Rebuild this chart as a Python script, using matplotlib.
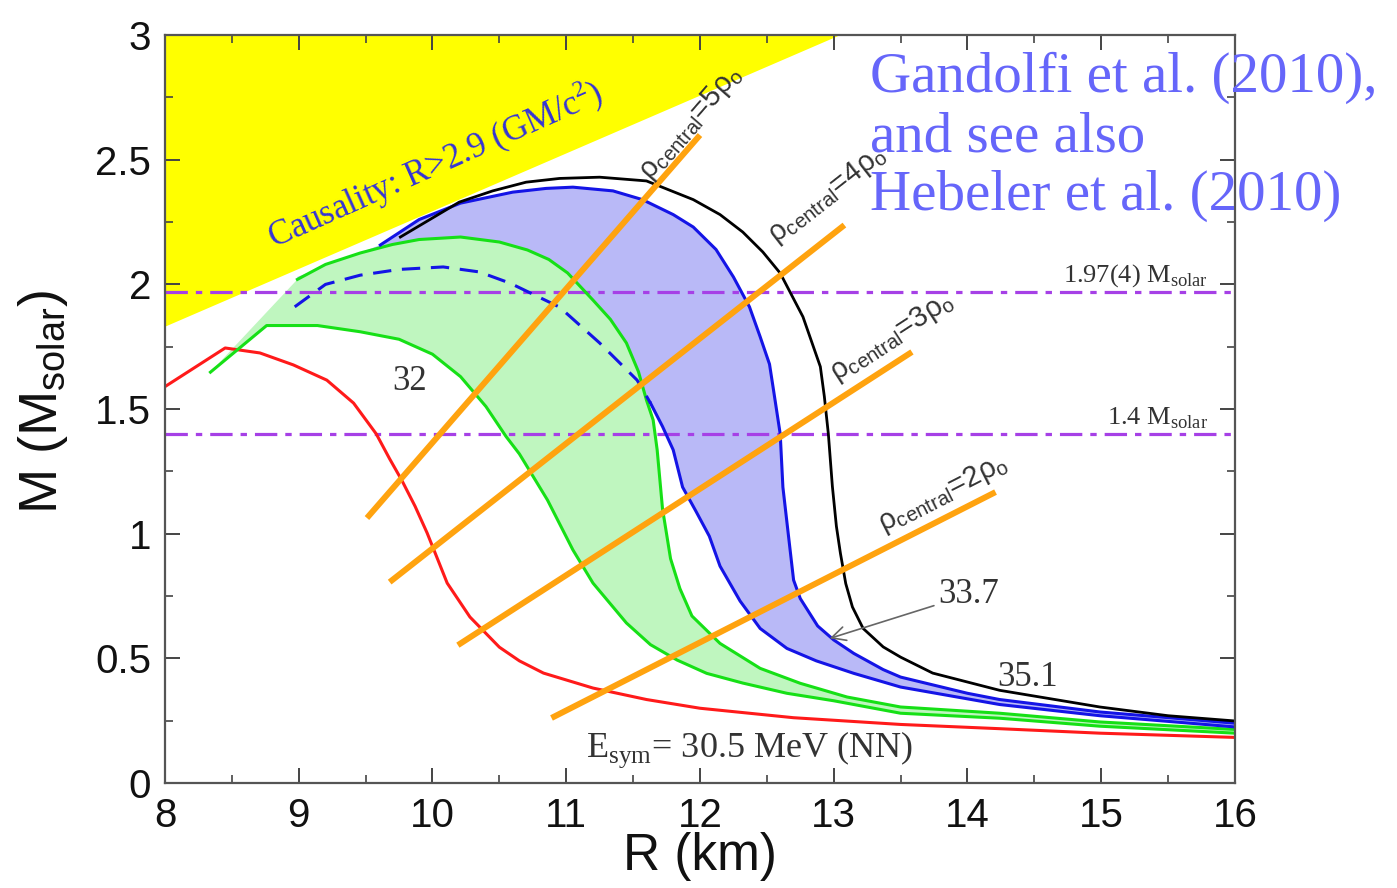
import matplotlib
matplotlib.use('Agg')
import matplotlib.pyplot as plt
from matplotlib.ticker import MultipleLocator

SERIF = 'Liberation Serif'
SANS = 'Liberation Sans'

# causality wedge, R > 2.9 GM/c^2
caus_R = [8.0, 13.05, 8.0]
caus_M = [1.83, 3.0, 3.0]

# E_sym = 30.5 MeV (NN)
red_R = [8.0, 8.45, 8.71, 8.96, 9.21, 9.41, 9.58, 9.68, 9.77, 9.87, 9.96, 10.11, 10.28,
         10.5, 10.65, 10.83, 11.2, 11.6, 12.0, 12.7, 13.5, 14.24, 14.99, 16.0]
red_M = [1.59, 1.745, 1.725, 1.677, 1.616, 1.524, 1.40, 1.30, 1.215, 1.11, 1.003, 0.802, 0.666,
         0.545, 0.49, 0.441, 0.381, 0.335, 0.30, 0.262, 0.235, 0.218, 0.20, 0.183]

# E_sym = 32 band
g_out_R = [8.99, 9.2, 9.46, 9.7, 9.9, 10.21, 10.5, 10.71, 10.87, 11.01, 11.2, 11.33, 11.45,
           11.54, 11.6, 11.65, 11.68, 11.72, 11.78, 11.85, 11.94, 12.15, 12.45, 12.75,
           13.1, 13.5, 14.24, 14.99, 16.0]
g_out_M = [2.02, 2.08, 2.126, 2.16, 2.18, 2.19, 2.17, 2.138, 2.1, 2.046, 1.937, 1.86, 1.765,
           1.65, 1.536, 1.456, 1.336, 1.1, 0.9, 0.78, 0.67, 0.56, 0.46, 0.40,
           0.345, 0.305, 0.28, 0.245, 0.215]
g_in_R = [8.34, 8.76, 9.14, 9.46, 9.75, 10.0, 10.21, 10.4, 10.55, 10.65, 10.86, 11.05,
          11.2, 11.45, 11.63, 11.83, 12.05, 12.32, 12.65, 13.0, 13.5, 14.24, 14.99, 16.0]
g_in_M = [1.648, 1.835, 1.835, 1.81, 1.78, 1.72, 1.63, 1.51, 1.39, 1.32, 1.135, 0.935,
          0.802, 0.642, 0.555, 0.493, 0.44, 0.401, 0.36, 0.33, 0.28, 0.26, 0.228, 0.20]

# E_sym = 33.7 band
b_out_R = [9.61, 9.9, 10.21, 10.6, 10.85, 11.05, 11.35, 11.57, 11.8, 11.95, 12.12, 12.25,
           12.37, 12.45, 12.52, 12.55, 12.6, 12.62, 12.66, 12.70, 12.75, 12.88, 13.0,
           13.15, 13.37, 13.5, 14.0, 14.24, 14.99, 16.0]
b_out_M = [2.158, 2.26, 2.326, 2.37, 2.385, 2.39, 2.375, 2.34, 2.28, 2.23, 2.14, 2.03,
           1.91, 1.79, 1.68, 1.576, 1.40, 1.187, 1.0, 0.814, 0.74, 0.63, 0.574,
           0.52, 0.455, 0.425, 0.36, 0.335, 0.285, 0.24]
b_dash_R = [8.97, 9.2, 9.46, 9.75, 10.08, 10.35, 10.58, 10.95, 11.25, 11.53, 11.63]
b_dash_M = [1.91, 2.0, 2.037, 2.06, 2.07, 2.05, 2.005, 1.909, 1.765, 1.616, 1.524]
b_in_R = [11.63, 11.72, 11.8, 11.87, 11.97, 12.07, 12.15, 12.3, 12.45, 12.65, 12.87,
          13.15, 13.5, 14.24, 14.99, 16.0]
b_in_M = [1.524, 1.43, 1.336, 1.187, 1.09, 0.99, 0.87, 0.73, 0.62, 0.54, 0.49,
          0.44, 0.385, 0.315, 0.27, 0.225]

# E_sym = 35.1
k_R = [9.76, 10.2, 10.45, 10.7, 10.95, 11.25, 11.6, 11.95, 12.15, 12.32, 12.47, 12.6,
       12.77, 12.9, 12.93, 12.96, 12.99, 13.02, 13.05, 13.09, 13.14, 13.22, 13.37, 13.5,
       13.74, 14.24, 14.99, 15.5, 16.0]
k_M = [2.19, 2.33, 2.375, 2.41, 2.425, 2.43, 2.415, 2.34, 2.28, 2.21, 2.13, 2.045,
       1.87, 1.67, 1.55, 1.40, 1.19, 1.03, 0.922, 0.80, 0.706, 0.62, 0.546, 0.505,
       0.441, 0.372, 0.305, 0.27, 0.249]

# lines of constant central density (end points)
rho_labels = ['5', '4', '3', '2']
rho_R = [[9.51, 12.0], [9.68, 13.08], [10.19, 13.585], [10.89, 14.21]]
rho_M = [[1.063, 2.599], [0.806, 2.238], [0.553, 1.729], [0.261, 1.167]]
rho_txt_R = [11.93, 12.95, 13.44, 13.82]
rho_txt_M = [2.65, 2.36, 1.79, 1.16]
rho_rot = [49, 38, 33, 27]

# observed masses
m_obs = [1.97, 1.4]
m_obs_txt = ['1.97(4) M', '1.4 M']

fig = plt.figure(figsize=(13.97, 8.88), dpi=100)
ax = fig.add_axes([0.1181, 0.1182, 0.7659, 0.8423])

ax.fill(caus_R, caus_M, color='#ffff00', lw=0, zorder=1)

blue_poly_R = b_out_R + b_in_R[::-1] + b_dash_R[::-1] + [g_out_R[0]]
blue_poly_M = b_out_M + b_in_M[::-1] + b_dash_M[::-1] + [g_out_M[0] + 0.01]
ax.fill(blue_poly_R, blue_poly_M, color='#b9b9f7', lw=0, zorder=2)
ax.fill(g_out_R + g_in_R[::-1], g_out_M + g_in_M[::-1], color='#bff6bf', lw=0, zorder=3)

for m in m_obs:
    ax.axhline(m, color='#a640e6', lw=2.3, ls=(0, (7, 2.5, 2, 2.5)), zorder=4)

ax.plot(red_R, red_M, color='#ff1a1a', lw=2.2, zorder=5)
ax.plot(g_out_R, g_out_M, color='#16e016', lw=2.2, zorder=5)
ax.plot(g_in_R, g_in_M, color='#16e016', lw=2.2, zorder=5)
ax.plot(b_out_R, b_out_M, color='#1414e6', lw=2.2, zorder=5)
ax.plot(b_in_R, b_in_M, color='#1414e6', lw=2.2, zorder=5)
ax.plot(b_dash_R, b_dash_M, color='#1414e6', lw=2.2, ls=(0, (6, 3.5)), zorder=5)
ax.plot(k_R, k_M, color='black', lw=2.0, zorder=5)

for lab, rr, mm, tr, tm, rot in zip(rho_labels, rho_R, rho_M, rho_txt_R, rho_txt_M, rho_rot):
    ax.plot(rr, mm, color='#ffa30f', lw=4.3, solid_capstyle='butt', zorder=6)
    ax.text(tr, tm, 'ρ$_\\mathregular{central}$=' + lab + 'ρ$_\\mathregular{o}$',
            rotation=rot, rotation_mode='anchor', ha='center', va='center',
            family=SANS, fontsize=21, color='#333333', zorder=7)

ax.text(10.02, 2.48, r'Causality: R>2.9 (GM/c$^\mathregular{2}$)', rotation=24,
        rotation_mode='anchor', ha='center', va='center', family=SERIF,
        fontsize=25, color='#3535d5', zorder=7)

for m, t in zip(m_obs, m_obs_txt):
    ax.text(15.8, m + 0.04, t + r'$_\mathregular{solar}$', ha='right', va='baseline',
            family=SERIF, fontsize=19, color='#333333', zorder=7)

ax.text(9.83, 1.61, '32', ha='center', va='center', family=SERIF, fontsize=25,
        color='#333333', zorder=7)
ax.text(14.45, 0.425, '35.1', ha='center', va='center', family=SERIF, fontsize=25,
        color='#333333', zorder=7)
ax.annotate('33.7', xy=(12.97, 0.58), xytext=(13.78, 0.755), ha='left', va='center',
            family=SERIF, fontsize=25, color='#333333', zorder=7,
            arrowprops=dict(arrowstyle='->', color='#666666', lw=1.2,
                            shrinkA=1, shrinkB=0))
ax.text(12.37, 0.104, r'E$_\mathregular{sym}$= 30.5 MeV (NN)', ha='center',
        va='baseline', family=SERIF, fontsize=26, color='#333333', zorder=7)

ax.set_xlim(8, 16)
ax.set_ylim(0, 3)
ax.set_xticks(range(8, 17))
ax.xaxis.set_minor_locator(MultipleLocator(0.5))
ax.set_yticks([0, 0.5, 1, 1.5, 2, 2.5, 3], ['0', '0.5', '1', '1.5', '2', '2.5', '3'])
ax.yaxis.set_minor_locator(MultipleLocator(0.25))
ax.tick_params(which='both', direction='in', top=True, right=True,
               colors='#444444', labelcolor='#111111')
ax.tick_params(which='major', length=11, width=1.4, labelsize=29, pad=10)
ax.tick_params(which='minor', length=6, width=1.2)
for lbl in ax.get_xticklabels() + ax.get_yticklabels():
    lbl.set_family(SANS)
for s in ax.spines.values():
    s.set_color('#555555')
    s.set_linewidth(1.6)
    s.set_zorder(8)

ax.set_xlabel('R (km)', family=SANS, fontsize=37, color='#111111')
ax.set_ylabel(r'M (M$_\mathregular{solar}$)', family=SANS, fontsize=39, color='#111111')
ax.xaxis.set_label_coords(0.5, -0.066)
ax.yaxis.set_label_coords(-0.089, 0.51)

credit = ['Gandolfi et al. (2010),', 'and see also', 'Hebeler et al. (2010)']
for i, line in enumerate(credit):
    fig.text(870 / 1397, 1 - (92 + 59 * i) / 888, line, ha='left', va='baseline',
             family=SERIF, fontsize=41, color='#6666fa')

fig.savefig('out.png', dpi=100)
